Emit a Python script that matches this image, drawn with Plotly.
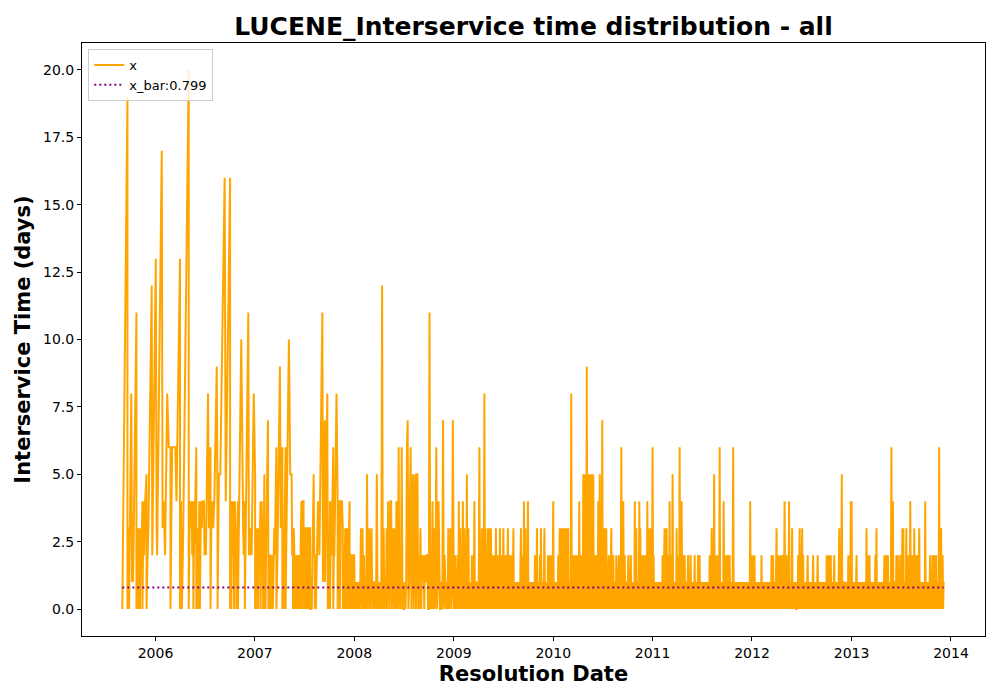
import numpy as np
import pandas as pd
import plotly.graph_objects as go

# interservice time (days) per resolved issue, one char per value: 0-9, a=10 ... k=20
# 2005-09 .. 2007: sparse enough to follow gap by gap, date = running sum of the gaps
start_date = "2005-09-01"
gaps_2005_2006 = (
    "0j0330821212b0"
    "3230320324" "042450223c" "2d32h34328" "6606664d04" "030203k0"
    "4342402360" "2320420434" "4232836034" "3493055g4g" "0"
    "4042404230" "2402a43240" "2b2323285"
)
gaps_2007 = (
    "0303230324" "0423050220" "2720220220" "2202202326" "0229360220"
    "2602a55230" "3202202202" "2022022024" "0440330330" "3303301101"
    "1110115220" "22022432b1" "1718202204" "0426022840" "4404430220"
    "2302303202" "4022022022" "022"
)

# 2008 .. 2013: too dense to follow one by one, spread evenly over each year
y2008 = (
    "2010101013" "0302010501" "3013011010" "5010100c03" "0103041044"
    "0130304016" "0106100101" "6701460550" "5505502030" "2120212200"
    "b010403016" "0141001070" "2101030130" "170"
)
y2009 = (
    "0102010120" "4013020140" "2302015023" "0110102020" "1401101010"
    "2602013020" "2803020230" "3023302020" "2010302020" "2030202023"
    "0202020230" "2202202023" "0110101010" "1102302010" "4023020140"
    "1010101010" "1020103010" "1020301010" "1301101020" "202020204"
)
y2010 = (
    "4010101010" "2013013010" "3030313030" "3010108010" "2020202020"
    "2040102010" "5055050905" "0505055050" "5012012010" "4025010270"
    "1030103010" "1201013010" "2010102010" "1201016010" "4012010101"
    "2010120101" "0104013010" "1040301020" "2020202040" "103030106"
)
y2011 = (
    "6020101010" "1010101010" "2021302030" "2010401201" "5010101030"
    "1020601040" "1201201010" "1201012010" "1010201010" "1201201010"
    "1010101010" "1010201030" "1015012010" "2010601010" "1040102012"
    "0201201010" "1601010101" "0101010101" "0101010101" "010104010"
)
y2012 = (
    "1201020101" "0101010102" "0101010101" "0101010102" "0120101013"
    "0201020102" "0120140102" "0101401010" "3010110100" "1020130101"
    "3020101010" "1201010101" "0120101010" "1201010101" "0101010102"
    "0102010201" "0101201011" "0101301015" "0110101010" "102010140"
)
y2013 = (
    "4011010101" "2011010101" "1010101010" "3012012010" "1011010120"
    "3011010101" "0101012010" "2012010101" "6014011010" "2012010120"
    "1030301010" "3012010140" "1020103010" "2012013010" "1010101040"
    "1011010120" "1012012010" "2010106010" "301201"
)
dense_years = [y2008, y2009, y2010, y2011, y2012, y2013]
year_spans = [
    ("2008-01-01", "2008-12-31"),
    ("2009-01-01", "2009-12-31"),
    ("2010-01-01", "2010-12-31"),
    ("2011-01-01", "2011-12-31"),
    ("2012-01-01", "2012-12-31"),
    ("2013-01-01", "2013-12-05"),
]

x_bar = 0.799
y_ticks = [0, 2.5, 5, 7.5, 10, 12.5, 15, 17.5, 20]
y_tick_labels = ["0.0", "2.5", "5.0", "7.5", "10.0", "12.5", "15.0", "17.5", "20.0"]
x_ticks = ["2006-01-01", "2007-01-01", "2008-01-01", "2009-01-01", "2010-01-01",
           "2011-01-01", "2012-01-01", "2013-01-01", "2014-01-01"]
x_tick_labels = ["2006", "2007", "2008", "2009", "2010", "2011", "2012", "2013", "2014"]


def decode(s):
    return [int(c, 36) for c in s]


early = decode(gaps_2005_2006 + gaps_2007)
dates = list(pd.Timestamp(start_date) + pd.to_timedelta(np.cumsum(early), unit="D"))
values = list(early)
for s, (a, b) in zip(dense_years, year_spans):
    dates.extend(pd.date_range(a, b, periods=len(s)))
    values.extend(decode(s))

fig = go.Figure()
fig.add_trace(go.Scatter(
    x=dates, y=values, mode="lines", name="x",
    line=dict(color="#FFA500", width=2),
))
fig.add_trace(go.Scatter(
    x=[dates[0], dates[-1]], y=[x_bar, x_bar], mode="lines",
    name="x_bar:{}".format(x_bar),
    line=dict(color="#800080", width=2, dash="2px,3px"),
))

axis_style = dict(
    showline=True, linecolor="black", linewidth=1, mirror=True,
    ticks="outside", ticklen=4, tickwidth=1, tickcolor="black",
    showgrid=False, zeroline=False,
    tickfont=dict(size=14, color="black"),
)
# the page puts the figure 8px in from the top left corner
fig.update_layout(
    width=1000, height=700,
    margin=dict(l=74, r=23, t=35, b=72),
    plot_bgcolor="white", paper_bgcolor="white",
    font=dict(family="DejaVu Sans", size=14, color="black"),
    title=dict(
        text="<b>LUCENE_Interservice time distribution - all</b>",
        x=0.5, xref="paper", xanchor="center",
        y=1 - 18 / 700, yref="container", yanchor="middle",
        font=dict(size=25),
    ),
    legend=dict(
        x=0.007, y=0.99, xanchor="left", yanchor="top",
        bgcolor="rgba(255,255,255,0.8)", bordercolor="#cccccc", borderwidth=1,
        font=dict(size=13), itemwidth=30,
    ),
    xaxis=dict(
        axis_style, type="date", range=["2005-04-06", "2014-05-06"],
        tickvals=x_ticks, ticktext=x_tick_labels,
        title=dict(text="<b>Resolution Date</b>", font=dict(size=21), standoff=6),
    ),
    yaxis=dict(
        axis_style, range=[-1, 21],
        tickvals=y_ticks, ticktext=y_tick_labels,
        title=dict(text="<b>Interservice Time (days)</b>", font=dict(size=21), standoff=6),
    ),
)

fig.write_html("out.html")
